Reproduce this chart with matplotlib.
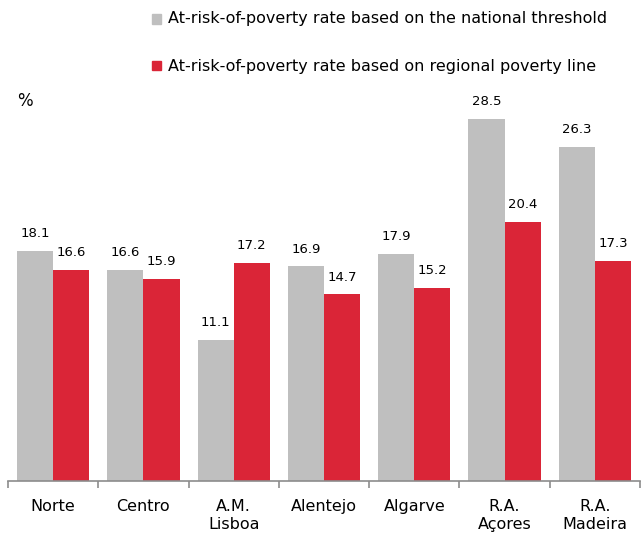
import numpy as np
import matplotlib.pyplot as plt

regions = ["Norte", "Centro", "A.M.\nLisboa", "Alentejo", "Algarve", "R.A.\nAçores", "R.A.\nMadeira"]
national = [18.1, 16.6, 11.1, 16.9, 17.9, 28.5, 26.3]
regional = [16.6, 15.9, 17.2, 14.7, 15.2, 20.4, 17.3]
legend_labels = ["At-risk-of-poverty rate based on the national threshold",
                 "At-risk-of-poverty rate based on regional poverty line"]

GREY = "#BFBFBF"
RED = "#DA2537"

W, H = 643, 537
fig = plt.figure(figsize=(W / 100, H / 100), dpi=100)
ax = fig.add_axes([8 / W, (H - 481) / H, 632 / W, 381 / H])

x = np.arange(len(regions))
bw = 0.4
b1 = ax.bar(x - bw / 2, national, bw, color=GREY)
b2 = ax.bar(x + bw / 2, regional, bw, color=RED)

for bars, vals in ((b1, national), (b2, regional)):
    for b, v in zip(bars, vals):
        ax.text(b.get_x() + b.get_width() / 2, v + 0.85, f"{v:.1f}",
                ha="center", va="bottom", fontsize=9.5, color="#000000")

ax.set_xlim(-0.5, len(regions) - 0.5)
ax.set_ylim(0, 30)
ax.set_yticks([])
for s in ("top", "right", "left"):
    ax.spines[s].set_visible(False)
ax.spines["bottom"].set_color("#8C8C8C")
ax.spines["bottom"].set_linewidth(1.2)

ax.set_xticks(x)
ax.set_xticklabels(regions, fontsize=11.5, linespacing=1.25)
ax.tick_params(axis="x", which="major", length=0, pad=13)
ax.set_xticks(np.arange(-0.5, len(regions)), minor=True)
ax.tick_params(axis="x", which="minor", length=5, width=1.2, color="#8C8C8C")

fig.text(25 / W, 1 - 101 / H, "%", fontsize=12, ha="center", va="center")

# legend drawn by hand to match the stacked layout
for i, (lab, col) in enumerate(zip(legend_labels, (GREY, RED))):
    yc = 1 - (19 + 47 * i) / H
    fig.patches.append(plt.Rectangle((152 / W, yc - 4.5 / H), 9 / W, 9 / H,
                                     transform=fig.transFigure, color=col))
    fig.text(168 / W, yc, lab, fontsize=11.5, ha="left", va="center")

plt.savefig("out.png", dpi=100)
